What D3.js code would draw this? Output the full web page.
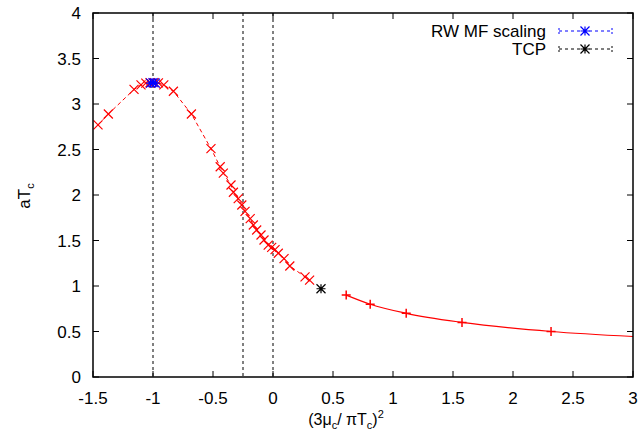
<!DOCTYPE html>
<html>
<head>
<meta charset="utf-8">
<script src="https://cdn.jsdelivr.net/npm/d3@7"></script>
<style>
  body { margin: 0; background: #fff; }
  text { font-family: "Liberation Sans", Arial, sans-serif; }
</style>
</head>
<body>
<svg width="642" height="436"></svg>
<script>
// dashed red branch (x marks)
var dashX = [-1.458, -1.372, -1.158, -1.10, -1.06, -1.025, -0.99, -0.955, -0.91, -0.83, -0.68, -0.517,
             -0.44, -0.414, -0.35, -0.33, -0.29, -0.26, -0.233, -0.19, -0.164, -0.136, -0.10, -0.075,
             -0.04, -0.011, 0.017, 0.044, 0.092, 0.14, 0.267, 0.305];
var dashY = [2.77, 2.89, 3.16, 3.21, 3.23, 3.234, 3.235, 3.232, 3.21, 3.14, 2.89, 2.51,
             2.31, 2.24, 2.11, 2.03, 1.96, 1.89, 1.82, 1.74, 1.67, 1.615, 1.56, 1.505,
             1.45, 1.425, 1.40, 1.36, 1.30, 1.22, 1.10, 1.065];
// solid red branch (+ marks)
var solidX = [0.61, 0.81, 1.11, 1.575, 2.317];
var solidY = [0.9, 0.8, 0.7, 0.6, 0.5];
// fitted curve through the solid branch
var fitX = [0.61, 0.81, 1.11, 1.575, 2.317, 3.0];
var fitY = [0.9, 0.8, 0.7, 0.6, 0.5, 0.445];
// RW MF scaling points and TCP
var rwX = [-1.02, -1.0, -0.98];
var rwY = [3.23, 3.235, 3.23];
var tcpX = [0.4];
var tcpY = [0.97];
// vertical reference lines
var vlines = [-1, -0.25, 0];

var xTicks = [-1.5, -1, -0.5, 0, 0.5, 1, 1.5, 2, 2.5, 3];
var yTicks = [0, 0.5, 1, 1.5, 2, 2.5, 3, 3.5, 4];

var pL = 93, pR = 633, pT = 13, pB = 377;
var svg = d3.select('svg');

var x = d3.scaleLinear().domain([-1.5, 3]).range([pL, pR]);
var y = d3.scaleLinear().domain([0, 4]).range([pB, pT]);

function pts(xs, ys) { return xs.map(function(v, i) { return [v, ys[i]]; }); }

// ticks on all four sides, pointing inward
var tl = 6;
svg.selectAll('.xt').data(xTicks).enter().append('path')
  .attr('d', function(d) { var px = x(d); return 'M' + px + ',' + pB + 'v' + (-tl) + 'M' + px + ',' + pT + 'v' + tl; })
  .attr('stroke', '#000').attr('stroke-width', 1);
svg.selectAll('.yt').data(yTicks).enter().append('path')
  .attr('d', function(d) { var py = y(d); return 'M' + pL + ',' + py + 'h' + tl + 'M' + pR + ',' + py + 'h' + (-tl); })
  .attr('stroke', '#000').attr('stroke-width', 1);

svg.selectAll('.xl').data(xTicks).enter().append('text')
  .attr('x', function(d) { return x(d); }).attr('y', pB + 27)
  .attr('text-anchor', 'middle').attr('font-size', 17)
  .text(function(d) { return d; });
svg.selectAll('.yl').data(yTicks).enter().append('text')
  .attr('x', pL - 12).attr('y', function(d) { return y(d) + 6; })
  .attr('text-anchor', 'end').attr('font-size', 17)
  .text(function(d) { return d; });

// vertical dashed lines
svg.selectAll('.vl').data(vlines).enter().append('line')
  .attr('x1', function(d) { return x(d); }).attr('x2', function(d) { return x(d); })
  .attr('y1', pT).attr('y2', pB)
  .attr('stroke', '#000').attr('stroke-width', 1).attr('stroke-dasharray', '3,3');

var line = d3.line().x(function(d) { return x(d[0]); }).y(function(d) { return y(d[1]); });

svg.append('path').attr('d', line(pts(dashX, dashY)))
  .attr('fill', 'none').attr('stroke', '#f00').attr('stroke-width', 1).attr('stroke-dasharray', '4,3');
svg.append('path').attr('d', line.curve(d3.curveMonotoneX)(pts(fitX, fitY)))
  .attr('fill', 'none').attr('stroke', '#f00').attr('stroke-width', 1.2);

var s = 4.5;
function crossX(px, py) { return 'M' + (px - s) + ',' + (py - s) + 'l' + 2 * s + ',' + 2 * s + 'M' + (px - s) + ',' + (py + s) + 'l' + 2 * s + ',' + (-2 * s); }
function plus(px, py) { return 'M' + (px - s) + ',' + py + 'h' + 2 * s + 'M' + px + ',' + (py - s) + 'v' + 2 * s; }
function star(px, py) { return crossX(px, py) + plus(px, py); }

svg.selectAll('.mx').data(pts(dashX, dashY)).enter().append('path')
  .attr('d', function(d) { return crossX(x(d[0]), y(d[1])); })
  .attr('stroke', '#f00').attr('stroke-width', 1.2);
svg.selectAll('.mp').data(pts(solidX, solidY)).enter().append('path')
  .attr('d', function(d) { return plus(x(d[0]), y(d[1])); })
  .attr('stroke', '#f00').attr('stroke-width', 1.5);
svg.selectAll('.rw').data(pts(rwX, rwY)).enter().append('path')
  .attr('d', function(d) { return star(x(d[0]), y(d[1])); })
  .attr('stroke', '#00f').attr('stroke-width', 1.2);
svg.selectAll('.tcp').data(pts(tcpX, tcpY)).enter().append('path')
  .attr('d', function(d) { return star(x(d[0]), y(d[1])); })
  .attr('stroke', '#000').attr('stroke-width', 1.2);

// frame
svg.append('rect').attr('x', pL).attr('y', pT).attr('width', pR - pL).attr('height', pB - pT)
  .attr('fill', 'none').attr('stroke', '#000').attr('stroke-width', 1.5);

// legend
var legend = [{ label: 'RW MF scaling', color: '#00f', y: 31 }, { label: 'TCP', color: '#000', y: 49 }];
var lg = svg.selectAll('.lg').data(legend).enter().append('g');
lg.append('text').attr('x', 546).attr('y', function(d) { return d.y + 6; })
  .attr('text-anchor', 'end').attr('font-size', 17).text(function(d) { return d.label; });
lg.append('line').attr('x1', 559).attr('x2', 612).attr('y1', function(d) { return d.y; }).attr('y2', function(d) { return d.y; })
  .attr('stroke', function(d) { return d.color; }).attr('stroke-dasharray', '3,3');
lg.append('path').attr('d', function(d) { return 'M559,' + (d.y - 3) + 'v6M612,' + (d.y - 3) + 'v6'; })
  .attr('stroke', function(d) { return d.color; }).attr('stroke-dasharray', '2,2');
lg.append('path').attr('d', function(d) { return star(585, d.y); })
  .attr('stroke', function(d) { return d.color; }).attr('stroke-width', 1.2);

// axis titles
var xt = svg.append('text').attr('x', 346).attr('y', 425).attr('text-anchor', 'middle').attr('font-size', 16);
xt.append('tspan').text('(3μ');
xt.append('tspan').attr('font-size', 11).attr('dy', 4).text('c');
xt.append('tspan').attr('dy', -4).text('/ πT');
xt.append('tspan').attr('font-size', 11).attr('dy', 4).text('c');
xt.append('tspan').attr('dy', -4).text(')');
xt.append('tspan').attr('font-size', 11).attr('dy', -7).text('2');

var yt = svg.append('text').attr('transform', 'translate(30,196) rotate(-90)').attr('text-anchor', 'middle').attr('font-size', 17);
yt.append('tspan').text('aT');
yt.append('tspan').attr('font-size', 11).attr('dy', 4).text('c');
</script>
</body>
</html>
